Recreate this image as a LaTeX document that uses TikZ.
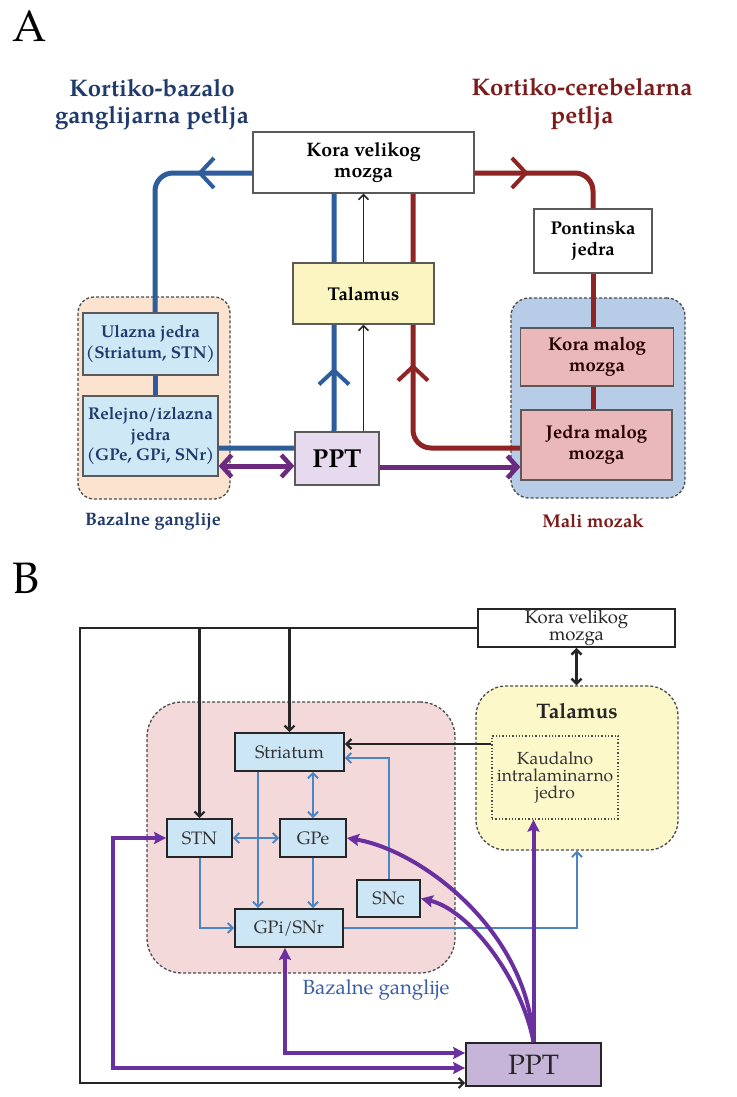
\documentclass[tikz,border=0pt]{standalone}
\usepackage{fontspec}
\setmainfont{TeX Gyre Pagella}
\usetikzlibrary{arrows.meta,decorations.markings}
\newcommand\myfs[2]{\fontsize{#1}{#2}\selectfont}
\definecolor{frameA}{HTML}{5A5A5A}
\definecolor{blueA}{HTML}{2D5D9B}
\definecolor{redA}{HTML}{8E2424}
\definecolor{purpA}{HTML}{6B2A80}
\definecolor{peachA}{HTML}{FBE3CF}
\definecolor{blueGrp}{HTML}{B7CCE6}
\definecolor{lblueA}{HTML}{CFE8F6}
\definecolor{pinkA}{HTML}{EAB8B8}
\definecolor{yelA}{HTML}{FBF5C2}
\definecolor{lavA}{HTML}{E8DAEE}
\definecolor{titleBlue}{HTML}{203A6C}
\definecolor{titleRed}{HTML}{7D1B1B}
\definecolor{pinkB}{HTML}{F3D9D9}
\definecolor{yelB}{HTML}{FCF8C9}
\definecolor{lblueB}{HTML}{CDE6F5}
\definecolor{thinBlue}{HTML}{4D84C4}
\definecolor{purpB}{HTML}{6A30A0}
\definecolor{lavB}{HTML}{C7B5D9}
\definecolor{labBlue}{HTML}{3C5EA6}
\tikzset{
  tChev/.tip={Straight Barb[length=14pt,width=30pt,line width=4pt]},
  tPuA/.tip={Straight Barb[length=10pt,width=22pt,line width=4.5pt]},
  tPuB/.tip={Stealth[length=12pt,width=12pt,inset=2pt]},
  tThin/.tip={Straight Barb[length=5pt,width=10pt]},
}
\begin{document}
\begin{tikzpicture}[x=1pt,y=-1pt,
  boxA/.style={draw=frameA, line width=1.3pt, inner sep=0pt, align=center, font=\myfs{18.5}{20.5}\bfseries},
  boxB/.style={draw=black!85, line width=1.8pt, inner sep=0pt, align=center, fill=lblueB, font=\myfs{18}{18}, text=black!80},
  grp/.style={draw=black!70, line width=1.3pt, dash pattern=on 3pt off 2pt, inner sep=0pt},
  bl/.style={line width=5pt, draw=blueA},
  rd/.style={line width=5pt, draw=redA},
  chev/.style={postaction={decorate}, decoration={markings, mark=at position #1 with {\arrow{tChev}}}},
  thinA/.style={line width=1.5pt, draw=black!85, -{tThin}},
  puA/.style={line width=5pt, draw=purpA},
  blk/.style={line width=2.2pt, draw=black!85},
  tb/.style={line width=2pt, draw=thinBlue},
  puB/.style={line width=4pt, draw=purpB},
]
\useasboundingbox (0,0) rectangle (736,1097);
\fill[white] (0,0) rectangle (736,1097);

% ---------------- Panel A ----------------
\node[anchor=base west, inner sep=0pt, font=\myfs{44}{44}] (labA) at (12,42) {A};
\node[align=center, font=\myfs{24}{27}\bfseries, text=titleBlue] (tBlue) at (152,105) {Kortiko-bazalo\\ganglijarna petlja};
\node[align=center, font=\myfs{24}{28}\bfseries, text=titleRed] (tRed) at (582,104) {Kortiko-cerebelarna\\petlja};

\node[grp, fill=peachA, rounded corners=16pt, minimum width=152, minimum height=202] (bgA) at (154,398) {};
\node[grp, fill=blueGrp, rounded corners=18pt, minimum width=174, minimum height=200] (mmA) at (598,398) {};

\node[boxA, fill=white, minimum width=221, minimum height=61, font=\myfs{19.5}{21}\bfseries] (koraA) at (363.5,162.5) {Kora velikog\\mozga};
\node[boxA, fill=white, minimum width=118, minimum height=64] (pontA) at (593,241) {Pontinska\\jedra};

% loops (drawn under boxes)
\draw[bl, rounded corners=18pt, chev=0.24] ([yshift=-10.5pt]koraA.west) -| (155,313);
\draw[rd, rounded corners=18pt, chev=0.37] ([yshift=-10.5pt]koraA.east) -| (pontA.north);
\coordinate (jmL) at (521,448);
\draw[rd, rounded corners=18pt, chev=0.52] (jmL) -| ([xshift=49.5pt]koraA.south);
\coordinate (relR) at (218,448);
\draw[bl, rounded corners=18pt, chev=0.52] (relR) -| ([xshift=-29.5pt]koraA.south);

\node[boxA, fill=yelA, minimum width=141, minimum height=61] (talA) at (363.5,293.5) {Talamus};
\node[boxA, fill=lblueA, text=titleBlue, minimum width=135, minimum height=62, font=\myfs{17}{20.5}\bfseries] (ulazA) at (150.5,344) {Ulazna jedra\\(Striatum, STN)};
\node[boxA, fill=lblueA, text=titleBlue, minimum width=135, minimum height=80, font=\myfs{17}{20.5}\bfseries] (relA) at (150.5,436) {Relejno/izlazna\\jedra\\(GPe, GPi, SNr)};
\node[boxA, fill=pinkA, text=black!85!red, minimum width=153, minimum height=58] (kmA) at (597,357) {Kora malog\\mozga};
\node[boxA, fill=pinkA, text=black!85!red, minimum width=151, minimum height=70] (jmA) at (596.5,445) {Jedra malog\\mozga};
\node[boxA, fill=lavA, minimum width=84, minimum height=53, font=\myfs{26}{26}\bfseries] (pptA) at (337,458.5) {PPT};

\draw[bl] ([xshift=4.5pt]ulazA.south) -- ([xshift=4.5pt]relA.north);
\draw[rd] (pontA.south) -- (pontA.south |- kmA.north);
\draw[rd] (pontA.south |- kmA.south) -- (pontA.south |- jmA.north);
\draw[thinA] (talA.south |- pptA.north) -- (talA.south);
\draw[thinA] (talA.north) -- (koraA.south);
\coordinate (p1) at ([yshift=-30pt]relA.east);
\draw[puA, {tPuA}-{tPuA}] (p1) -- (p1 -| pptA.west);
\coordinate (p2) at ([yshift=-8.5pt]pptA.east);
\draw[puA, -{tPuA}] (p2) -- (p2 -| jmA.west);

\node[font=\myfs{18}{20}\bfseries, text=titleBlue] (lbgA) at (153,521) {Bazalne ganglije};
\node[font=\myfs{18.5}{20}\bfseries, text=titleRed] (lmmA) at (593,521) {Mali mozak};

% ---------------- Panel B ----------------
\node[anchor=base west, inner sep=0pt, font=\myfs{44}{44}] (labB) at (12,593) {B};

\node[grp, fill=pinkB, rounded corners=35pt, minimum width=308, minimum height=271] (bgB) at (301,837.5) {};
\node[grp, fill=yelB, rounded corners=30pt, minimum width=202, minimum height=164] (talB) at (577,768) {};
\node[font=\myfs{21}{22}\bfseries, text=black!85] (talBl) at (577,711) {Talamus};
\node[draw=black!70, dotted, line width=1.3pt, inner sep=0pt, align=center, minimum width=126, minimum height=83, font=\myfs{17.5}{17}, text=black!80] (kauB) at (555,777.5) {Kaudalno\\intralaminarno\\jedro};

\node[draw=black!85, line width=1.8pt, fill=white, inner sep=0pt, align=center, minimum width=197, minimum height=38, font=\myfs{18.5}{17.5}, text=black!85] (koraB) at (576.5,628) {Kora velikog\\mozga};

\node[boxB, minimum width=109, minimum height=38] (striB) at (289.5,752) {Striatum};
\node[boxB, minimum width=65, minimum height=38] (stnB) at (199.5,838) {STN};
\node[boxB, minimum width=66, minimum height=38] (gpeB) at (313,838) {GPe};
\node[boxB, minimum width=63, minimum height=37] (sncB) at (388.5,898.5) {SNc};
\node[boxB, minimum width=108, minimum height=38] (gpiB) at (289,928) {GPi/SNr};
\node[draw=black!85, line width=1.8pt, fill=lavB, inner sep=0pt, minimum width=135, minimum height=43, font=\myfs{28}{28}, text=black!85] (pptB) at (533.5,1064.5) {PPT};

% black connectors
\coordinate (fl) at (80,1083);
\draw[blk, -{tThin}] (koraB.west) -| (fl) -- (fl -| pptB.west);
\draw[blk, -{tThin}] (stnB.north |- koraB.west) -- (stnB.north);
\draw[blk, -{tThin}] (striB.north |- koraB.west) -- (striB.north);
\draw[line width=2.5pt, draw=black!85, {Straight Barb[length=5pt,width=10pt]}-{Straight Barb[length=5pt,width=10pt]}] (koraB.south) -- (koraB.south |- talB.north);
\coordinate (k1) at ([yshift=33.5pt]kauB.west);
\draw[blk, -{tThin}] (k1) -- (k1 -| striB.east);

% blue connectors
\draw[tb, {tThin}-{tThin}] (gpeB.north |- striB.south) -- (gpeB.north);
\draw[tb, {tThin}-{tThin}] (stnB.east) -- (gpeB.west);
\coordinate (s2) at ([xshift=-31.5pt]striB.south);
\draw[tb, -{tThin}] (s2) -- (s2 |- gpiB.north);
\draw[tb, -{tThin}] (gpeB.south) -- (gpeB.south |- gpiB.north);
\draw[tb, -{tThin}] (stnB.south) |- (gpiB.west);
\draw[tb, -{tThin}] (sncB.north) |- ([yshift=-6pt]striB.east);
\draw[tb, -{tThin}] (gpiB.east) -| (talB.south);

% purple connectors
\coordinate (s1) at (113,1068);
\draw[puB, {tPuB}-{tPuB}] (stnB.west) -| (s1) -- (s1 -| pptB.west);
\draw[puB, {tPuB}-{tPuB}] ([xshift=-4pt]gpiB.south) |- ([yshift=11.5pt]pptB.west);
\draw[puB, -{tPuB}] (pptB.north) -- (pptB.north |- kauB.south);
\draw[puB, -{tPuB}] (pptB.north) .. controls (528,930) and (420,850) .. (gpeB.east);
\draw[puB, -{tPuB}] (pptB.north) .. controls (522,980) and (470,910) .. (sncB.east);

\node[font=\myfs{20.5}{22}, text=labBlue] (lbgB) at (376,990) {Bazalne ganglije};
\end{tikzpicture}
\end{document}
